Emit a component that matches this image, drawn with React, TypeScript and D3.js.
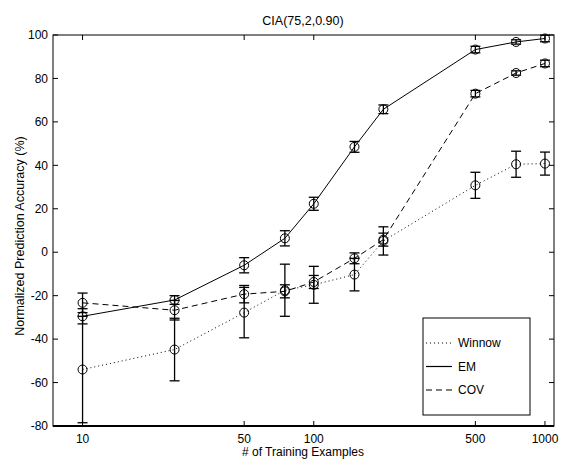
import React from "react";
import * as d3 from "d3";

const xValues = [10, 25, 50, 75, 100, 150, 200, 500, 750, 1000];
const winnowMean = [-54, -44.8, -27.8, -17.5, -15, -10.3, 5.2, 30.8, 40.5, 40.8];
const winnowErr = [24.5, 14.4, 11.6, 12, 8.5, 7.5, 6.5, 6, 6, 5.3];
const emMean = [-29.5, -22, -6, 6.4, 22.3, 48.5, 65.8, 93.3, 96.8, 98.4];
const emErr = [3.5, 2, 3.5, 3.5, 3, 2.5, 2, 1.5, 1, 1.5];
const covMean = [-23.3, -26.7, -19.3, -18, -13.7, -2.8, 5.8, 73, 82.5, 86.9];
const covErr = [4.5, 4.5, 4, 3, 3, 2.5, 3, 1.5, 1, 1.5];
const xTicks = [10, 50, 100, 500, 1000];
const yTicks = [-80, -60, -40, -20, 0, 20, 40, 60, 80, 100];

const seriesNames = ["Winnow", "EM", "COV"];
const seriesDash = ["1,3", null, "6,4"];

const left = 53, right = 554, top = 35, bottom = 426;

export default function App() {
  const x = d3.scaleLog().domain([7.45, 1094]).range([left, right]);
  const y = d3.scaleLinear().domain([-80, 100]).range([bottom, top]);
  const series = [
    { name: seriesNames[0], mean: winnowMean, err: winnowErr, dash: seriesDash[0] },
    { name: seriesNames[1], mean: emMean, err: emErr, dash: seriesDash[1] },
    { name: seriesNames[2], mean: covMean, err: covErr, dash: seriesDash[2] },
  ];
  const line = d3.line<number>().x((_, i) => x(xValues[i])).y((d) => y(d));
  const font = "Liberation Sans, Arial, Helvetica, sans-serif";
  const tl = 5;
  return (
    <svg width={562} height={461} style={{ position: "absolute", left: 0, top: 0 }} fontFamily={font}>
      <rect x={0} y={0} width={562} height={461} fill="white" />
      <text x={303} y={25} textAnchor="middle" fontSize={12.5}>CIA(75,2,0.90)</text>
      <rect x={left} y={top} width={right - left} height={bottom - top} fill="none" stroke="black" strokeWidth={1} />
      <line x1={left} x2={right} y1={bottom} y2={bottom} stroke="black" strokeWidth={2} />
      {yTicks.map((t) => (
        <g key={"y" + t}>
          <line x1={left} x2={left + tl} y1={y(t)} y2={y(t)} stroke="black" />
          <line x1={right} x2={right - tl} y1={y(t)} y2={y(t)} stroke="black" />
          <text x={left - 5} y={y(t)} dy="0.35em" textAnchor="end" fontSize={12}>{t < 0 ? "-" + Math.abs(t) : t}</text>
        </g>
      ))}
      {xTicks.map((t) => (
        <g key={"x" + t}>
          <line x1={x(t)} x2={x(t)} y1={bottom} y2={bottom - tl} stroke="black" />
          <line x1={x(t)} x2={x(t)} y1={top} y2={top + tl} stroke="black" />
          <text x={x(t)} y={443} textAnchor="middle" fontSize={12}>{t}</text>
        </g>
      ))}
      <text x={303} y={456} textAnchor="middle" fontSize={12}>
        # of Training Examples
      </text>
      <text transform={`translate(24,236) rotate(-90)`} textAnchor="middle" fontSize={12.5}>
        Normalized Prediction Accuracy (%)
      </text>
      {series.map((s) => (
        <g key={s.name}>
          <path d={line(s.mean) || ""} fill="none" stroke="black" strokeWidth={1} strokeDasharray={s.dash || undefined} />
          {s.mean.map((m, i) => {
            const cx = x(xValues[i]);
            const y1 = y(m - s.err[i]);
            const y2 = y(m + s.err[i]);
            return (
              <g key={i}>
                <line x1={cx} x2={cx} y1={y1} y2={y2} stroke="black" strokeWidth={1.3} />
                <line x1={cx - 5} x2={cx + 5} y1={y1} y2={y1} stroke="black" strokeWidth={1.3} />
                <line x1={cx - 5} x2={cx + 5} y1={y2} y2={y2} stroke="black" strokeWidth={1.3} />
                <circle cx={cx} cy={y(m)} r={4.5} fill="none" stroke="black" strokeWidth={1} />
              </g>
            );
          })}
        </g>
      ))}
      <rect x={423} y={318} width={107} height={97} fill="white" stroke="black" strokeWidth={1} />
      {series.map((s, i) => (
        <g key={"leg" + s.name}>
          <line x1={426} x2={452} y1={343 + i * 23.5} y2={343 + i * 23.5} stroke="black" strokeWidth={1.2} strokeDasharray={s.dash || undefined} />
          <text x={458} y={343 + i * 23.5} dy="0.35em" fontSize={12}>{s.name}</text>
        </g>
      ))}
    </svg>
  );
}
